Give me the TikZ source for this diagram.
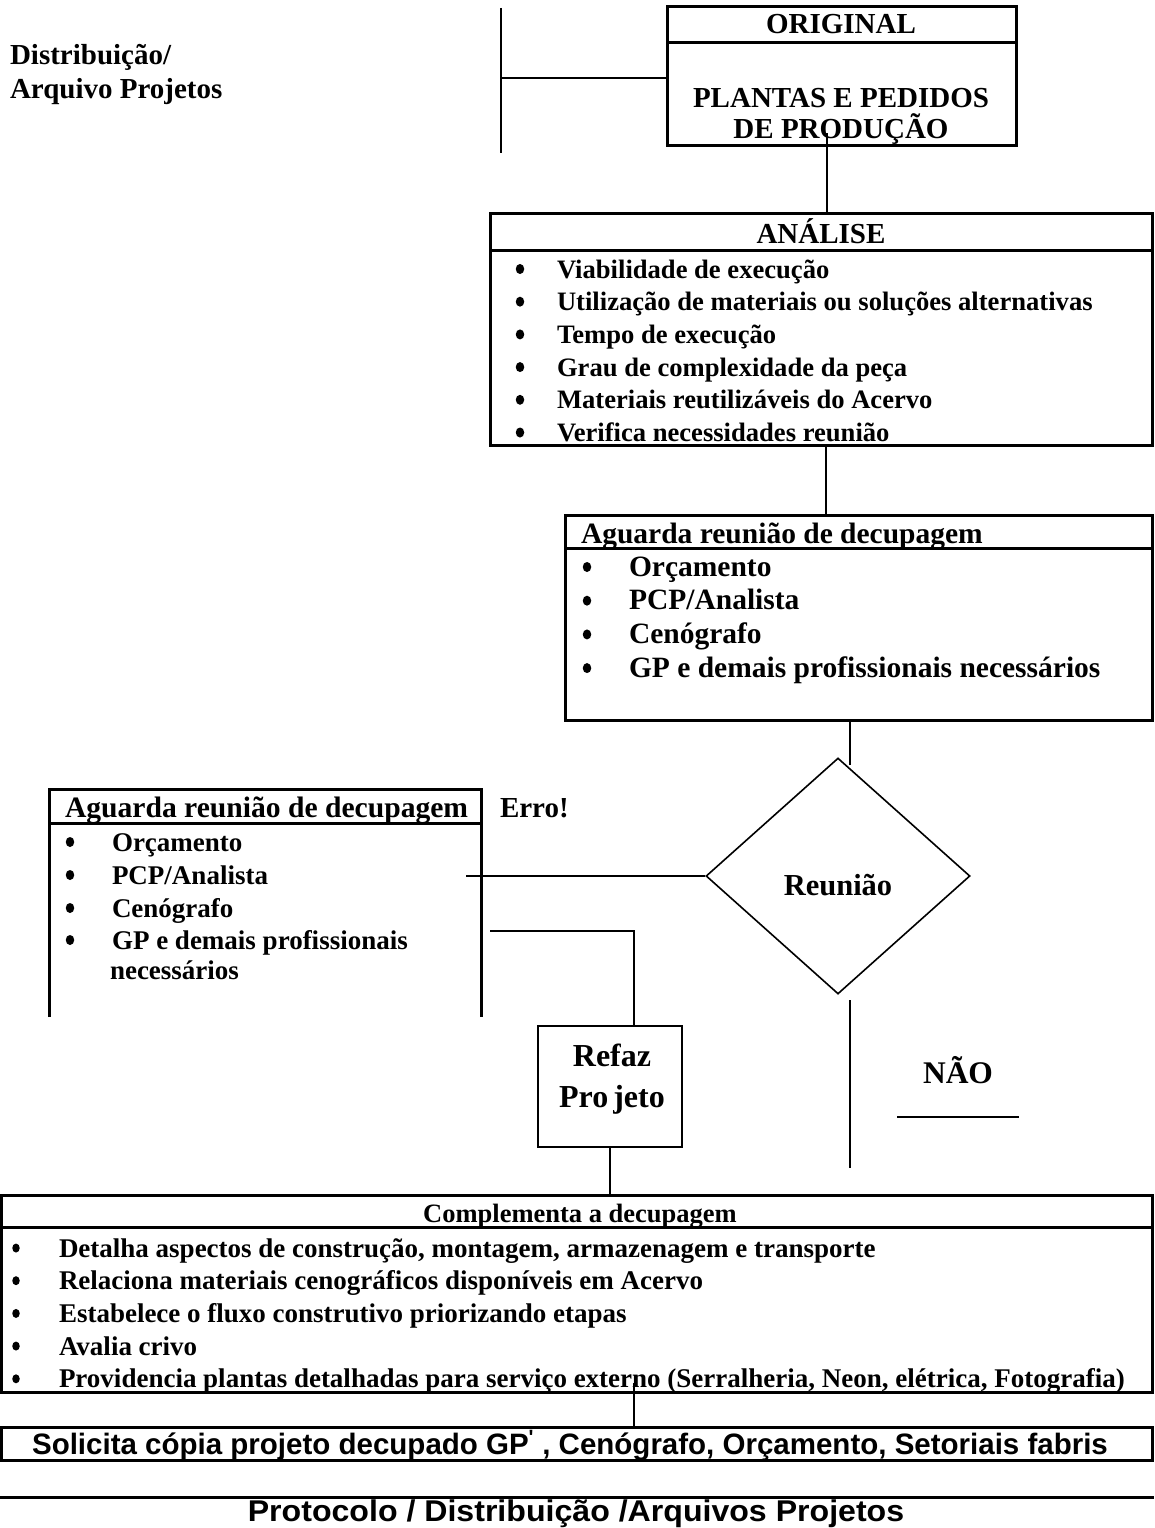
\documentclass[tikz,border=0pt]{standalone}
\usepackage{fontspec}
\setmainfont{Liberation Serif}
\newfontfamily\arialfont{Liberation Sans}
\usetikzlibrary{calc,shapes.geometric}

% bold Times-like and Arial-like text at a given size (in pt)
\newcommand\tms[1]{\fontsize{#1}{#1}\selectfont\bfseries}
\newcommand\arl[1]{\arialfont\fontsize{#1}{#1}\selectfont\bfseries}

\begin{document}
\begin{tikzpicture}[x=1pt,y=-1pt,
  box/.style={draw, line width=3pt, inner sep=0pt, outer sep=0pt},
  lnk/.style={line width=1.6pt},
  lbl/.style={inner sep=0pt, outer sep=0pt, anchor=base west},
  clbl/.style={inner sep=0pt, outer sep=0pt, anchor=base},
  dot/.style={ellipse, fill, inner sep=0pt, outer sep=0pt, minimum width=#1, minimum height=#1+1.5pt},
  dot/.default=8.5pt,
]
\useasboundingbox (0,0) rectangle (1154,1528);

% ---------- header: distribution ----------
\node[lbl, font={\tms{29}}] (dist1) at (10,65) {Distribuição/};
\node[lbl, font={\tms{29}}] (dist2) at (10,99) {Arquivo Projetos};

% ---------- ORIGINAL ----------
\node[box, minimum width=349pt, minimum height=138pt] (orig) at (841.5,76) {};
\draw[line width=3pt] ($(orig.north west)+(0,36)$) -- ($(orig.north east)+(0,36)$);
\node[clbl, font={\tms{29}}] (origt) at (841,34) {ORIGINAL};
\node[clbl, font={\tms{29}}] (orig1) at (841,107) {PLANTAS E PEDIDOS};
\node[clbl, font={\tms{29}}] (orig2) at (841,138) {DE PRODUÇÃO};

\coordinate (brT) at (501,8);
\coordinate (brB) at (501,153);
\coordinate (brM) at (501,78);
\draw[lnk] (brT) -- (brB);
\draw[lnk] (brM) -- (brM -| orig.west);

% ---------- ANÁLISE ----------
\node[box, minimum width=662pt, minimum height=232pt] (ana) at (821,329) {};
\draw[line width=3pt] ($(ana.north west)+(0,37)$) -- ($(ana.north east)+(0,37)$);
\node[clbl, font={\tms{29}}] (anat) at (821,243) {ANÁLISE};
\foreach \t [count=\i] in {{Viabilidade de execução},
    {Utilização de materiais ou soluções alternativas},
    {Tempo de execução},
    {Grau de complexidade da peça},
    {Materiais reutilizáveis do Acervo},
    {Verifica necessidades reunião}} {
  \node[dot] (anab\i) at (520,{269+32.7*(\i-1)}) {};
  \node[lbl, font={\tms{26.6}}] (ana\i) at (557,{278+32.7*(\i-1)}) {\t};
}

\coordinate (o1) at (827,133);
\draw[lnk] (o1) -- (o1 |- ana.north);

% ---------- waiting for the meeting (right) ----------
\node[box, minimum width=587pt, minimum height=205pt] (agr) at (858.5,617.5) {};
\draw[line width=3pt] ($(agr.north west)+(0,33)$) -- ($(agr.north east)+(0,33)$);
\node[lbl, font={\tms{29.5}}] (agrt) at (581,543) {Aguarda reunião de decupagem};
\foreach \t [count=\i] in {{Orçamento}, {PCP/Analista}, {Cenógrafo},
    {GP e demais profissionais necessários}} {
  \node[dot] (agrb\i) at (587,{567+33.7*(\i-1)}) {};
  \node[lbl, font={\tms{29.5}}] (agr\i) at (629,{576+33.7*(\i-1)}) {\t};
}

\coordinate (a1) at (826,445);
\draw[lnk] (a1) -- (a1 |- agr.north);

% ---------- decision ----------
\node[diamond, draw, line width=1.6pt, minimum width=264pt, minimum height=236pt,
      inner sep=0pt] (dec) at (838,876) {};
\node[clbl, font={\tms{30.5}}] (dect) at (838,895) {Reunião};

\coordinate (a2) at (850,765);
\draw[lnk] (a2 |- agr.south) -- (a2);

% ---------- waiting for the meeting (left) ----------
\node[inner sep=0pt, outer sep=0pt, minimum width=432pt, minimum height=228pt] (agl) at (265,903) {};
\draw[line width=3pt] (agl.south west) -- (agl.north west) -- (agl.north east) -- (agl.south east);
\draw[line width=3pt] ($(agl.north west)+(0,34)$) -- ($(agl.north east)+(0,34)$);
\node[lbl, font={\tms{29.6}}] (aglt) at (65,817) {Aguarda reunião de decupagem};
\node[lbl, font={\tms{29}}] (erro) at (500,817) {Erro!};
\foreach \t/\y [count=\i] in {{Orçamento}/851, {PCP/Analista}/884, {Cenógrafo}/917,
    {GP e demais profissionais}/949} {
  \node[dot] (aglb\i) at (70,\y-9) {};
  \node[lbl, font={\tms{27}}] (agl\i) at (112,\y) {\t};
}
\node[lbl, font={\tms{27}}] (agl5) at (110,979) {necessários};

\coordinate (a3) at (466,876);
\draw[lnk] (dec.west) -- (a3);

% ---------- redo the project ----------
\node[draw, line width=2pt, inner sep=0pt, minimum width=144pt, minimum height=121pt] (refaz) at (610,1086.5) {};
\node[clbl, font={\tms{32}}] (refaz1) at (612,1066) {Refaz};
\node[clbl, font={\tms{32}}] (refaz2) at (612,1107) {Pro\kern5pt jeto};

\coordinate (a4) at (490,931);
\draw[lnk] (a4) -| ($(refaz.north)+(24,0)$);

% ---------- NÃO branch ----------
\coordinate (n1) at (850,1000);
\coordinate (n2) at (850,1168);
\draw[lnk] (n1) -- (n2);
\node[clbl, font={\tms{31.5}}] (nao) at (958,1083) {NÃO};
\coordinate (u1) at (897,1117);
\coordinate (u2) at (1019,1117);
\draw[lnk] (u1) -- (u2);

% ---------- complement the breakdown ----------
\node[box, minimum width=1151pt, minimum height=197pt] (comp) at (576.5,1293.5) {};
\draw[line width=3pt] ($(comp.north west)+(0,32)$) -- ($(comp.north east)+(0,32)$);
\node[clbl, font={\tms{26.5}}] (compt) at (580,1222) {Complementa a decupagem};
\foreach \t [count=\i] in {{Detalha aspectos de construção, montagem, armazenagem e transporte},
    {Relaciona materiais cenográficos disponíveis em Acervo},
    {Estabelece o fluxo construtivo priorizando etapas},
    {Avalia crivo},
    {Providencia plantas detalhadas para serviço externo (Serralheria, Neon, elétrica, Fotografia)}} {
  \node[dot=7.5pt] (compb\i) at (16,{1248+32.7*(\i-1)}) {};
  \node[lbl, font={\tms{27}}] (comp\i) at (59,{1257+32.7*(\i-1)}) {\t};
}

\draw[lnk] (refaz.south) -- (refaz.south |- comp.north);

% ---------- copy request ----------
\node[box, minimum width=1151pt, minimum height=33pt] (sol) at (576.5,1443.5) {};
\node[clbl, font={\arl{29.5}}] (solt) at (570,1454)
  {Solicita cópia projeto decupado GP\textsuperscript{'} , Cenógrafo, Orçamento, Setoriais fabris};

\coordinate (c1) at (634,1383);
\draw[lnk] (c1) -- (c1 |- sol.north);

% ---------- filing ----------
\coordinate (b1) at (0,1497);
\coordinate (b2) at (1154,1497);
\draw[line width=3pt] (b1) -- (b2);
\node[clbl, font={\arl{30}}] (prot) at (576,1521)
  {\scalebox{1.07}[1]{Protocolo / Distribuição /Arquivos Projetos}};

\end{tikzpicture}
\end{document}
